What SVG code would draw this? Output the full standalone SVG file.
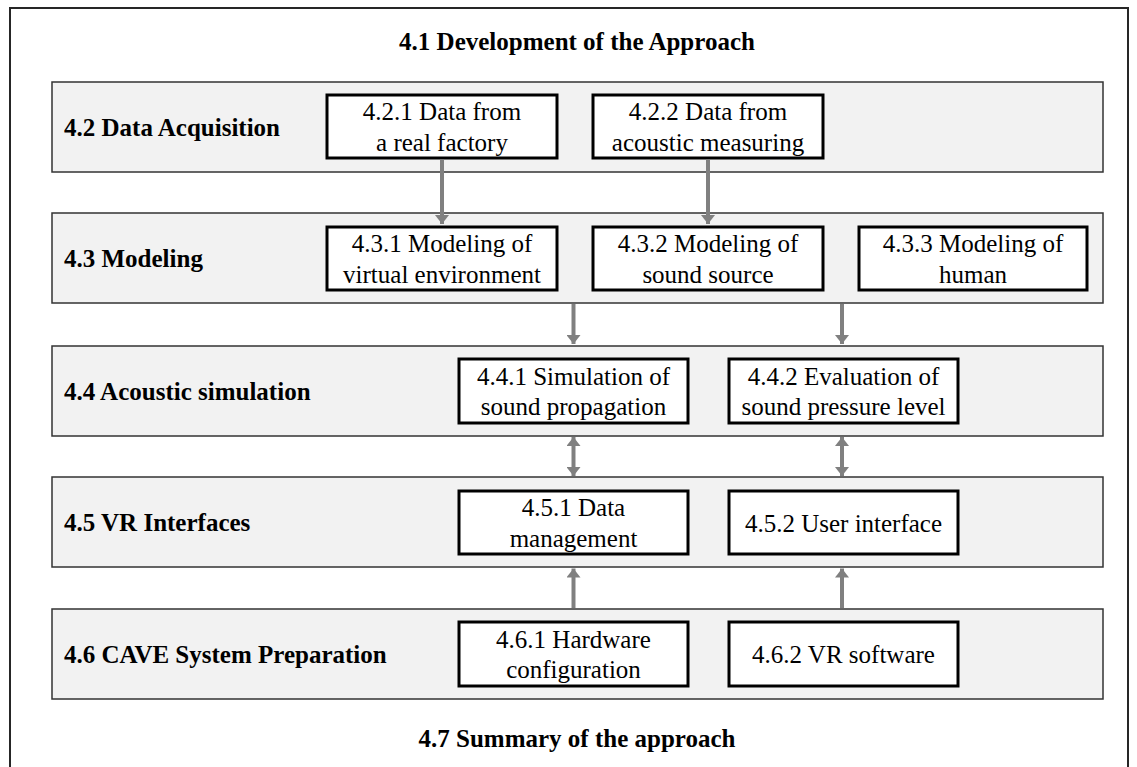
<svg xmlns="http://www.w3.org/2000/svg" width="1137" height="767" viewBox="0 0 1137 767">
<style>
  .frame{fill:#ffffff;stroke:#262626;stroke-width:2}
  .band{fill:#f2f2f2;stroke:#333333;stroke-width:1.5}
  .box{fill:#ffffff;stroke:#000000;stroke-width:3}
  .head{font-family:"Liberation Serif","Times New Roman",serif;font-size:25px;font-weight:bold;fill:#000}
  .txt{font-family:"Liberation Serif","Times New Roman",serif;font-size:25px;fill:#000;text-anchor:middle}
  .conn{stroke:#808080;stroke-width:4;fill:none}
</style>
<defs>
  <marker id="ah" viewBox="0 0 9 14" refX="9" refY="7" markerWidth="9" markerHeight="14" markerUnits="userSpaceOnUse" orient="auto-start-reverse">
    <path d="M0,0 L9,7 L0,14 z" fill="#808080"/>
  </marker>
</defs>
<rect class="frame" x="10" y="8" width="1118" height="770"/>
<text class="head" x="577" y="50" text-anchor="middle">4.1 Development of the Approach</text>
<text class="head" x="577" y="747" text-anchor="middle">4.7 Summary of the approach</text>

<g id="band-4-2">
  <rect class="band" x="52" y="82" width="1051" height="90"/>
  <text class="head" x="64" y="136">4.2 Data Acquisition</text>
</g>
<g id="node-4-2-1">
  <rect class="box" x="327" y="95" width="230" height="63"/>
  <text class="txt" x="442" y="120">4.2.1 Data from</text>
  <text class="txt" x="442" y="150.5">a real factory</text>
</g>
<g id="node-4-2-2">
  <rect class="box" x="593" y="95" width="230" height="63"/>
  <text class="txt" x="708" y="120">4.2.2 Data from</text>
  <text class="txt" x="708" y="150.5">acoustic measuring</text>
</g>

<g id="band-4-3">
  <rect class="band" x="52" y="213" width="1051" height="90"/>
  <text class="head" x="64" y="267">4.3 Modeling</text>
</g>
<g id="node-4-3-1">
  <rect class="box" x="327" y="227" width="230" height="63"/>
  <text class="txt" x="442" y="252">4.3.1 Modeling of</text>
  <text class="txt" x="442" y="282.5">virtual environment</text>
</g>
<g id="node-4-3-2">
  <rect class="box" x="593" y="227" width="230" height="63"/>
  <text class="txt" x="708" y="252">4.3.2 Modeling of</text>
  <text class="txt" x="708" y="282.5">sound source</text>
</g>
<g id="node-4-3-3">
  <rect class="box" x="859" y="227" width="228" height="63"/>
  <text class="txt" x="973" y="252">4.3.3 Modeling of</text>
  <text class="txt" x="973" y="282.5">human</text>
</g>

<g id="band-4-4">
  <rect class="band" x="52" y="346" width="1051" height="90"/>
  <text class="head" x="64" y="400">4.4 Acoustic simulation</text>
</g>
<g id="node-4-4-1">
  <rect class="box" x="459" y="359" width="229" height="64"/>
  <text class="txt" x="573.5" y="384.5">4.4.1 Simulation of</text>
  <text class="txt" x="573.5" y="415">sound propagation</text>
</g>
<g id="node-4-4-2">
  <rect class="box" x="729" y="359" width="229" height="64"/>
  <text class="txt" x="843.5" y="384.5">4.4.2 Evaluation of</text>
  <text class="txt" x="843.5" y="415">sound pressure level</text>
</g>

<g id="band-4-5">
  <rect class="band" x="52" y="477" width="1051" height="90"/>
  <text class="head" x="64" y="531">4.5 VR Interfaces</text>
</g>
<g id="node-4-5-1">
  <rect class="box" x="459" y="491" width="229" height="63"/>
  <text class="txt" x="573.5" y="516">4.5.1 Data</text>
  <text class="txt" x="573.5" y="546.5">management</text>
</g>
<g id="node-4-5-2">
  <rect class="box" x="729" y="491" width="229" height="63"/>
  <text class="txt" x="843.5" y="531.5">4.5.2 User interface</text>
</g>

<g id="band-4-6">
  <rect class="band" x="52" y="609" width="1051" height="90"/>
  <text class="head" x="64" y="663">4.6 CAVE System Preparation</text>
</g>
<g id="node-4-6-1">
  <rect class="box" x="459" y="622" width="229" height="64"/>
  <text class="txt" x="573.5" y="647.5">4.6.1 Hardware</text>
  <text class="txt" x="573.5" y="678">configuration</text>
</g>
<g id="node-4-6-2">
  <rect class="box" x="729" y="622" width="229" height="64"/>
  <text class="txt" x="843.5" y="663">4.6.2 VR software</text>
</g>

<g id="connectors">
  <line class="conn" x1="442" y1="159.5" x2="442" y2="224" marker-end="url(#ah)"/>
  <line class="conn" x1="708" y1="159.5" x2="708" y2="224" marker-end="url(#ah)"/>
  <line class="conn" x1="573.5" y1="304" x2="573.5" y2="344" marker-end="url(#ah)"/>
  <line class="conn" x1="842" y1="304" x2="842" y2="344" marker-end="url(#ah)"/>
  <line class="conn" x1="573.5" y1="437" x2="573.5" y2="476" marker-start="url(#ah)" marker-end="url(#ah)"/>
  <line class="conn" x1="842" y1="437" x2="842" y2="476" marker-start="url(#ah)" marker-end="url(#ah)"/>
  <line class="conn" x1="573.5" y1="608" x2="573.5" y2="568.5" marker-end="url(#ah)"/>
  <line class="conn" x1="842" y1="608" x2="842" y2="568.5" marker-end="url(#ah)"/>
</g>
</svg>
